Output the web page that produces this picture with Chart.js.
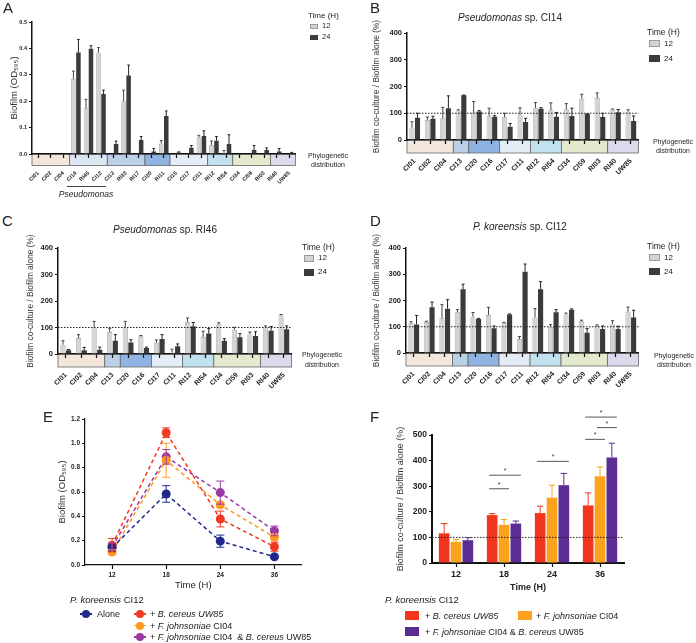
<!DOCTYPE html>
<html>
<head>
<meta charset="utf-8">
<script src="https://cdn.jsdelivr.net/npm/chart.js@4.4.1/dist/chart.umd.min.js"></script>
<style>
  body { margin: 0; background: #fff; }
  #fig { position: relative; width: 696px; height: 643px; overflow: hidden; font-family: "Liberation Sans", Arial, sans-serif; color: #222; }
  .box { position: absolute; }
  .txt { position: absolute; white-space: nowrap; line-height: 1; }
  .sw { position: absolute; box-sizing: border-box; }
</style>
</head>
<body>
<div id="fig">
  <div class="box" style="left:0;top:0;width:306px;height:200px"><canvas id="chartA"></canvas></div>
  <div class="box" style="left:365px;top:0;width:285px;height:185px"><canvas id="chartB"></canvas></div>
  <div class="box" style="left:15px;top:205px;width:288px;height:194px"><canvas id="chartC"></canvas></div>
  <div class="box" style="left:365px;top:205px;width:285px;height:193px"><canvas id="chartD"></canvas></div>
  <div class="box" style="left:50px;top:400px;width:256px;height:195px"><canvas id="chartE"></canvas></div>
  <div class="box" style="left:385px;top:400px;width:245px;height:197px"><canvas id="chartF"></canvas></div>
</div>
<script>
// panel A - biofilm of each strain alone
const strainsA = ['CI01','CI02','CI04','CI14','RI46','CI12','CI13','RI33','RI17','CI20','RI11','CI16','CI17','CI11','RI12','RI54','CI34','CI59','RI03','RI40','UW85'];
const groupsA = [3, 3, 3, 2, 3, 2, 3, 2];
const a12 =    [0, 0, 0, 0.284, 0.173, 0.384, 0, 0.200, 0, 0, 0.040, 0, 0, 0.063, 0.034, 0.005, 0, 0, 0, 0, 0];
const a12Err = [0, 0, 0, 0.030, 0.034, 0.019, 0, 0.042, 0, 0, 0.011, 0, 0, 0.008, 0.015, 0.008, 0, 0, 0, 0, 0];
const a24 =    [0, 0, 0, 0.384, 0.399, 0.227, 0.038, 0.297, 0.053, 0.009, 0.144, 0.006, 0.024, 0.068, 0.050, 0.038, 0, 0.015, 0.015, 0.009, 0.004];
const a24Err = [0, 0, 0, 0.050, 0.011, 0.015, 0.011, 0.040, 0.013, 0.012, 0.019, 0.002, 0.008, 0.020, 0.016, 0.035, 0, 0.017, 0.008, 0.012, 0.002];

// panels B-D - co-culture / alone (%)
const strainsBCD = ['CI01','CI02','CI04','CI13','CI20','CI16','CI17','CI11','RI12','RI54','CI34','CI59','RI03','RI40','UW85'];
const groupsBCD = [3, 1, 2, 2, 2, 3, 2];
const b12 =    [47, 75, 81, 110, 104, 89, 85, 94, 119, 111, 115, 154, 157, 114, 105];
const b12Err = [21, 11, 41, 3, 40, 30, 15, 26, 21, 28, 21, 17, 19, 2, 8];
const b24 =    [83, 79, 119, 167, 107, 87, 50, 67, 117, 87, 90, 97, 86, 104, 71];
const b24Err = [17, 10, 46, 1, 3, 4, 12, 14, 4, 16, 29, 1, 14, 10, 19];
const c12 =    [35, 60, 100, 83, 100, 67, 42, 6, 121, 64, 112, 91, 74, 100, 145];
const c12Err = [15, 13, 23, 14, 23, 3, 11, 12, 15, 22, 6, 10, 9, 6, 4];
const c24 =    [14, 14, 16, 50, 43, 23, 57, 29, 105, 77, 50, 63, 68, 88, 93];
const c24Err = [3, 11, 10, 23, 11, 3, 16, 9, 14, 19, 8, 14, 16, 16, 13];
const d12 =    [113, 118, 132, 155, 138, 145, 114, 53, 135, 100, 147, 121, 103, 110, 157];
const d12Err = [6, 3, 52, 10, 16, 29, 3, 10, 34, 8, 5, 4, 4, 13, 18];
const d24 =    [109, 174, 169, 243, 130, 94, 147, 310, 243, 155, 165, 77, 91, 91, 135];
const d24Err = [34, 20, 34, 19, 2, 9, 2, 29, 29, 10, 3, 16, 12, 11, 28];

// panels E-F - P. koreensis CI12 over time
const timeLabels = ['12', '18', '24', '36'];
const eAlone =    [0.141, 0.584, 0.196, 0.068];
const eAloneErr = [0.03, 0.068, 0.05, 0.01];
const eBc =       [0.163, 1.087, 0.378, 0.150];
const eBcErr =    [0.055, 0.04, 0.065, 0.037];
const eFj =       [0.106, 0.861, 0.495, 0.228];
const eFjErr =    [0.02, 0.14, 0.02, 0.02];
const eFjBc =     [0.150, 0.889, 0.595, 0.280];
const eFjBcErr =  [0.03, 0.06, 0.095, 0.04];
const fBc =       [116, 187, 195, 225];
const fBcErr =    [38, 6, 27, 49];
const fFj =       [83, 149, 255, 339];
const fFjErr =    [9, 21, 49, 36];
const fFjBc =     [89, 154, 304, 412];
const fFjBcErr =  [10, 10, 46, 56];
// significance bars: time index, from series, to series, height (%)
const fSig = [
  {cat: 1, from: 0, to: 1, y: 290},
  {cat: 1, from: 0, to: 2, y: 343},
  {cat: 2, from: 0, to: 2, y: 397},
  {cat: 3, from: 0, to: 1, y: 483},
  {cat: 3, from: 1, to: 2, y: 529},
  {cat: 3, from: 0, to: 2, y: 570}
];
const refLine = 100;

const phyloColorsA = ['#f3e6da', '#dbe6f3', '#bcd0e8', '#8fb4e2', '#e4edf6', '#c1e1ee', '#e3e9cd', '#ddd9ec'];
const phyloColorsBCD = ['#f3e6da', '#bcd0e8', '#8fb4e2', '#e4edf6', '#c1e1ee', '#e3e9cd', '#ddd9ec'];

Chart.defaults.font.family = '"Liberation Sans", Arial, sans-serif';
Chart.defaults.color = '#222';
Chart.defaults.animation = false;
Chart.defaults.plugins.legend.display = false;
Chart.defaults.plugins.tooltip.enabled = false;

// phylogeny bands, reference line, error bars, significance bars
const decor = {
    id: 'decor',
    beforeDraw(chart, args, o) {
        if (!o.groups) return;
        const { ctx, chartArea } = chart;
        const x = chart.scales.x;
        const half = (x.getPixelForValue(1) - x.getPixelForValue(0)) / 2;
        let start = 0;
        ctx.save();
        o.groups.forEach((n, k) => {
            const l = x.getPixelForValue(start) - half;
            const r = x.getPixelForValue(start + n - 1) + half;
            ctx.fillStyle = o.colors[k];
            ctx.fillRect(l, chartArea.bottom, r - l, o.band);
            ctx.strokeStyle = '#666';
            ctx.lineWidth = 0.8;
            ctx.strokeRect(l, chartArea.bottom, r - l, o.band);
            start += n;
        });
        ctx.restore();
    },
    afterDatasetsDraw(chart, args, o) {
        const { ctx, chartArea } = chart;
        const y = chart.scales.y;
        ctx.save();
        if (o.refLine != null) {
            const py = y.getPixelForValue(o.refLine);
            ctx.setLineDash([1.5, 1.5]);
            ctx.strokeStyle = '#222';
            ctx.lineWidth = 1;
            ctx.beginPath();
            ctx.moveTo(chartArea.left, py);
            ctx.lineTo(chartArea.right, py);
            ctx.stroke();
            ctx.setLineDash([]);
        }
        chart.data.datasets.forEach((ds, i) => {
            if (!ds.errors) return;
            chart.getDatasetMeta(i).data.forEach((el, j) => {
                const e = ds.errors[j];
                if (!e) return;
                const v = ds.data[j];
                const top = y.getPixelForValue(v + e);
                const bottom = y.getPixelForValue(o.bothWays ? v - e : v);
                const cap = o.cap || el.width * 0.6;
                ctx.strokeStyle = ds.errorColor || '#333';
                ctx.lineWidth = o.errWidth || 1;
                ctx.beginPath();
                ctx.moveTo(el.x, bottom);
                ctx.lineTo(el.x, top);
                ctx.moveTo(el.x - cap / 2, top);
                ctx.lineTo(el.x + cap / 2, top);
                if (o.bothWays) {
                    ctx.moveTo(el.x - cap / 2, bottom);
                    ctx.lineTo(el.x + cap / 2, bottom);
                }
                ctx.stroke();
            });
        });
        if (o.sig) {
            o.sig.forEach(s => {
                const a = chart.getDatasetMeta(s.from).data[s.cat];
                const b = chart.getDatasetMeta(s.to).data[s.cat];
                const py = y.getPixelForValue(s.y);
                const x0 = a.x - 3, x1 = b.x + 5;
                ctx.strokeStyle = '#555';
                ctx.lineWidth = 1;
                ctx.beginPath();
                ctx.moveTo(x0, py);
                ctx.lineTo(x1, py);
                ctx.stroke();
                ctx.fillStyle = '#333';
                ctx.font = '7px "Liberation Sans", Arial, sans-serif';
                ctx.textAlign = 'center';
                ctx.fillText('*', (x0 + x1) / 2, py - 2);
            });
        }
        ctx.restore();
    }
};

function axisY(o) {
    return {
        min: 0,
        max: o.yMax,
        ticks: { stepSize: o.step, font: { size: o.yFont, weight: 'bold' }, padding: 2, color: '#222', callback: o.fmt },
        grid: { drawOnChartArea: false, tickLength: 3, tickColor: '#111', tickWidth: 1.2 },
        border: { color: '#111', width: o.axisWidth || 1.5 },
        title: { display: true, text: o.yTitle, font: { size: o.yTitleSize }, color: '#333', padding: { top: 4, bottom: 0 } },
        afterFit: s => { s.width = o.W; }
    };
}

function axisX(o) {
    return {
        offset: true,
        grid: { drawOnChartArea: false, offset: false, tickLength: 4, tickColor: '#111', tickWidth: 1.2 },
        border: { color: '#111', width: o.axisWidth || 1.5 },
        ticks: { font: { size: o.xFont, weight: 'bold' }, color: '#222', minRotation: o.rot || 0, maxRotation: o.rot || 0, padding: o.xPad, autoSkip: false },
        title: o.xTitle ? { display: true, text: o.xTitle, font: { size: o.xTitleSize, weight: o.xTitleWeight || 'normal' }, color: '#222', padding: { top: 2, bottom: 4 } } : { display: false },
        afterFit: s => { s.height = o.H; }
    };
}

function barPanel(id, labels, series, o) {
    return new Chart(document.getElementById(id), {
        type: 'bar',
        data: {
            labels: labels,
            datasets: series.map(s => ({
                label: s.label,
                data: s.data,
                errors: s.err,
                errorColor: s.errColor,
                backgroundColor: s.color,
                borderColor: s.border || s.color,
                borderWidth: s.border ? 0.7 : 0,
                categoryPercentage: o.catPct,
                barPercentage: o.barPct
            }))
        },
        options: {
            responsive: true,
            maintainAspectRatio: false,
            layout: { padding: { left: o.padL, top: o.padT, right: o.padR, bottom: 0 } },
            scales: { x: axisX(o), y: axisY(o) },
            plugins: { decor: { groups: o.groups, colors: o.colors, band: o.band, refLine: o.refLine, sig: o.sig } }
        },
        plugins: [decor]
    });
}

const light = '#d4d4d4', lightEdge = '#9a9a9a', dark = '#3b3b3b';
const pctTitle = 'Biofilm co-culture / Biofilm alone (%)';

barPanel('chartA', strainsA, [
    { label: '12', data: a12, err: a12Err, color: light, border: lightEdge, errColor: '#444' },
    { label: '24', data: a24, err: a24Err, color: dark, errColor: '#222' }
], { padL: 5, padT: 22, padR: 4, W: 27, H: 46, yMax: 0.5, step: 0.1, fmt: v => v.toFixed(1), yFont: 5.5, xFont: 5.5,
     rot: 45, xPad: 12, yTitle: 'Biofilm (OD₅₉₅)', yTitleSize: 9.5, catPct: 0.8, barPct: 0.9,
     groups: groupsA, colors: phyloColorsA, band: 11.5 });

const bcdOpts = { padL: 3, padR: 6, W: 39, H: 45, yMax: 400, step: 100, yFont: 7.5, xFont: 7, rot: 45, xPad: 13,
     yTitle: pctTitle, yTitleSize: 8.3, catPct: 0.72, barPct: 0.92, groups: groupsBCD, colors: phyloColorsBCD, band: 13, refLine: refLine };

barPanel('chartB', strainsBCD, [
    { label: '12', data: b12, err: b12Err, color: light, border: lightEdge, errColor: '#444' },
    { label: '24', data: b24, err: b24Err, color: dark, errColor: '#222' }
], Object.assign({}, bcdOpts, { padT: 33 }));

barPanel('chartC', strainsBCD, [
    { label: '12', data: c12, err: c12Err, color: light, border: lightEdge, errColor: '#444' },
    { label: '24', data: c24, err: c24Err, color: dark, errColor: '#222' }
], Object.assign({}, bcdOpts, { padL: 7, padT: 43, W: 36 }));

barPanel('chartD', strainsBCD, [
    { label: '12', data: d12, err: d12Err, color: light, border: lightEdge, errColor: '#444' },
    { label: '24', data: d24, err: d24Err, color: dark, errColor: '#222' }
], Object.assign({}, bcdOpts, { padT: 43, padR: 7, W: 38 }));

const red = '#f2361d', orange = '#fda21f', violet = '#5b2c92';
barPanel('chartF', timeLabels, [
    { label: '+ B. cereus UW85', data: fBc, err: fBcErr, color: red, errColor: red },
    { label: '+ F. johnsoniae CI04', data: fFj, err: fFjErr, color: orange, errColor: orange },
    { label: '+ F. johnsoniae CI04 & B. cereus UW85', data: fFjBc, err: fFjBcErr, color: violet, errColor: violet }
], { padL: 6, padT: 35, padR: 6, W: 41, H: 34, yMax: 500, step: 100, yFont: 8.5, xFont: 9, xPad: 2, axisWidth: 2,
     xTitle: 'Time (H)', xTitleSize: 9, xTitleWeight: 'bold',
     yTitle: pctTitle, yTitleSize: 9, catPct: 0.74, barPct: 0.9, refLine: refLine, sig: fSig });

const eColors = ['#1f2a8a', '#f03a22', '#fc9a1f', '#9a39a6'];
const eSeries = [
    { label: 'Alone', data: eAlone, err: eAloneErr },
    { label: '+ B. cereus UW85', data: eBc, err: eBcErr },
    { label: '+ F. johnsoniae CI04', data: eFj, err: eFjErr },
    { label: '+ F. johnsoniae CI04 & B. cereus UW85', data: eFjBc, err: eFjBcErr }
];
new Chart(document.getElementById('chartE'), {
    type: 'line',
    data: {
        labels: timeLabels,
        datasets: eSeries.map((s, i) => ({
            label: s.label,
            data: s.data,
            errors: s.err,
            errorColor: eColors[i],
            borderColor: eColors[i],
            backgroundColor: eColors[i],
            borderDash: [4, 3],
            borderWidth: 1.5,
            pointRadius: 4.5,
            pointBorderWidth: 0,
            tension: 0
        }))
    },
    options: {
        responsive: true,
        maintainAspectRatio: false,
        layout: { padding: { left: 3, top: 19, right: 4, bottom: 0 } },
        scales: {
            x: axisX({ xFont: 6.5, xPad: 2, H: 30, xTitle: 'Time (H)', xTitleSize: 9.5, axisWidth: 1.2 }),
            y: axisY({ yMax: 1.2, step: 0.2, fmt: v => v.toFixed(1), yFont: 6.5, W: 32, yTitle: 'Biofilm (OD₅₉₅)', yTitleSize: 9.5, axisWidth: 1.2 })
        },
        plugins: { decor: { bothWays: true, cap: 8 } }
    },
    plugins: [decor]
});

// ---- text, legends ----
const fig = document.getElementById('fig');

function put(x, y, html, size, align, style) {
    const d = document.createElement('div');
    d.className = 'txt';
    d.innerHTML = html;
    d.style.top = y + 'px';
    d.style.fontSize = size + 'px';
    d.style.transform = 'translateY(-50%)';
    if (align === 'c') {
        d.style.left = (x - 70) + 'px';
        d.style.width = '140px';
        d.style.textAlign = 'center';
    } else {
        d.style.left = x + 'px';
    }
    if (style) Object.assign(d.style, style);
    fig.appendChild(d);
}

function swatch(x, y, w, h, color, edge) {
    const d = document.createElement('div');
    d.className = 'sw';
    Object.assign(d.style, { left: x + 'px', top: y + 'px', width: w + 'px', height: h + 'px', background: color, border: edge ? '0.7px solid ' + edge : 'none' });
    fig.appendChild(d);
}

function timeLegend(x, y, size, boxW, boxH, gap) {
    put(x, y, 'Time (H)', size);
    swatch(x + 2, y + 8, boxW, boxH, light, lightEdge);
    put(x + boxW + 6, y + 8 + boxH / 2, '12', size - 0.5);
    swatch(x + 2, y + 8 + gap, boxW, boxH, dark);
    put(x + boxW + 6, y + 8 + gap + boxH / 2, '24', size - 0.5);
}

['A', 'B', 'C', 'D', 'E', 'F'].forEach((p, i) => {
    const pos = [[3, 7], [370, 7], [2, 220], [370, 220], [43, 416], [370, 416]][i];
    put(pos[0], pos[1], p, 15);
});

// A
timeLegend(308, 15.5, 8, 8, 5.5, 11);
put(328, 155, 'Phylogenetic', 7, 'c');
put(328, 164, 'distribution', 7, 'c');
swatch(67, 186, 39, 1, '#444');
put(86, 193.5, '<i>Pseudomonas</i>', 8.5, 'c');

// B
put(510, 18, '<i>Pseudomonas</i> sp. CI14', 10, 'c');
timeLegend(647, 32, 8.5, 11, 7, 15);
put(673, 141, 'Phylogenetic', 7, 'c');
put(673, 150, 'distribution', 7, 'c');

// C
put(165, 230, '<i>Pseudomonas</i> sp. RI46', 10, 'c');
timeLegend(302, 247, 8.5, 10, 6.5, 14);
put(322, 354, 'Phylogenetic', 7, 'c');
put(322, 364, 'distribution', 7, 'c');

// D
put(520, 227, '<i>P. koreensis</i> sp. CI12', 10, 'c');
timeLegend(647, 246, 8.5, 11, 7, 14);
put(674, 355, 'Phylogenetic', 7, 'c');
put(674, 364, 'distribution', 7, 'c');

// E legend
function lineKey(x, y, color) {
    swatch(x, y - 0.75, 12, 1.5, color);
    const dot = document.createElement('div');
    dot.className = 'sw';
    Object.assign(dot.style, { left: (x + 2) + 'px', top: (y - 4) + 'px', width: '8px', height: '8px', borderRadius: '50%', background: color });
    fig.appendChild(dot);
}
put(70, 600, '<i>P. koreensis</i> CI12', 9.5);
lineKey(80, 614, eColors[0]);
put(97, 614, 'Alone', 9);
lineKey(134, 614, eColors[1]);
put(150, 614, '+ <i>B. cereus UW85</i>', 9);
lineKey(134, 625.5, eColors[2]);
put(150, 625.5, '+ <i>F. johnsoniae</i> CI04', 9);
lineKey(134, 637, eColors[3]);
put(150, 637, '+ <i>F. johnsoniae</i> CI04 &nbsp;&amp; <i>B. cereus</i> UW85', 9);

// F legend
put(385, 600, '<i>P. koreensis</i> CI12', 9.5);
swatch(405, 611, 14, 9, red);
put(425, 615.5, '+ <i>B. cereus UW85</i>', 9);
swatch(518, 611, 14, 9, orange);
put(536, 615.5, '+ <i>F. johnsoniae</i> CI04', 9);
swatch(405, 627, 14, 9, violet);
put(425, 631.5, '+ <i>F. johnsoniae</i> CI04 &amp; <i>B. cereus</i> UW85', 9);
</script>
</body>
</html>
